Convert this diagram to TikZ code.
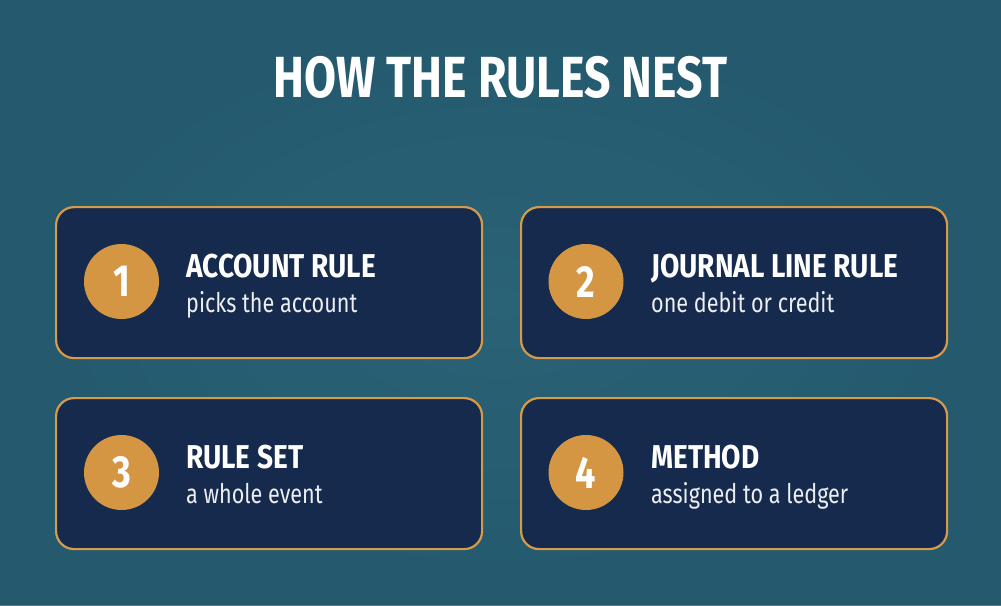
\documentclass[tikz,border=0pt]{standalone}
\usepackage{fontspec}
\setmainfont{Fira Sans}[FakeStretch=0.80]
\newfontfamily\cardhead{Fira Sans}[FakeStretch=0.85]
\usetikzlibrary{positioning}
\definecolor{bgteal}{RGB}{37,90,110}
\definecolor{bgteal2}{RGB}{44,100,120}
\definecolor{cardfill}{RGB}{21,42,76}
\definecolor{cardline}{RGB}{213,154,74}
\definecolor{disc}{RGB}{212,150,66}
\tikzset{
  card/.style={draw=cardline, line width=2.2pt, fill=cardfill, rounded corners=18pt,
    minimum width=426pt, minimum height=151pt, anchor=north west, inner sep=0pt},
  numdisc/.style={circle, fill=disc, minimum size=75pt, inner sep=0pt, text=white,
    font=\fontsize{45}{45}\selectfont\bfseries},
  cardtitle/.style={anchor=base west, text=white, inner sep=0pt,
    font=\cardhead\fontsize{33}{33}\selectfont\bfseries},
  cardsub/.style={anchor=base west, text=white!92!cardfill, inner sep=0pt,
    font=\fontsize{27}{27}\selectfont},
  maintitle/.style={anchor=base, text=white, inner sep=0pt,
    font=\fontsize{58}{58}\selectfont\bfseries}
}
\begin{document}
\begin{tikzpicture}[x=1pt,y=-1pt]
\fill[bgteal] (0,0) rectangle (1001,605);
\shade[inner color=bgteal2, outer color=bgteal, opacity=0.8] (0,0) rectangle (1001,605);
\useasboundingbox (0,0) rectangle (1001,605);
\node[maintitle] (title) at (500.5,97) {HOW THE RULES NEST};
% cards
\node[card] (b1) at (55,206) {};
\node[card] (b2) at (520,206) {};
\node[card] (b3) at (55,397) {};
\node[card] (b4) at (520,397) {};
% discs
\node[numdisc] (c1) at (121.5,281.5) {1};
\node[numdisc] (c2) at (586,281.5) {2};
\node[numdisc] (c3) at (121.5,472.5) {3};
\node[numdisc] (c4) at (586,472.5) {4};
% texts
\node[cardtitle] (t1) at (186,277) {ACCOUNT RULE};
\node[cardsub] (s1) at (186,312) {picks the account};
\node[cardtitle] (t2) at (651,277) {JOURNAL LINE RULE};
\node[cardsub] (s2) at (651,312) {one debit or credit};
\node[cardtitle] (t3) at (186,468) {RULE SET};
\node[cardsub] (s3) at (186,503) {a whole event};
\node[cardtitle] (t4) at (651,468) {METHOD};
\node[cardsub] (s4) at (651,503) {assigned to a ledger};
\end{tikzpicture}
\end{document}
